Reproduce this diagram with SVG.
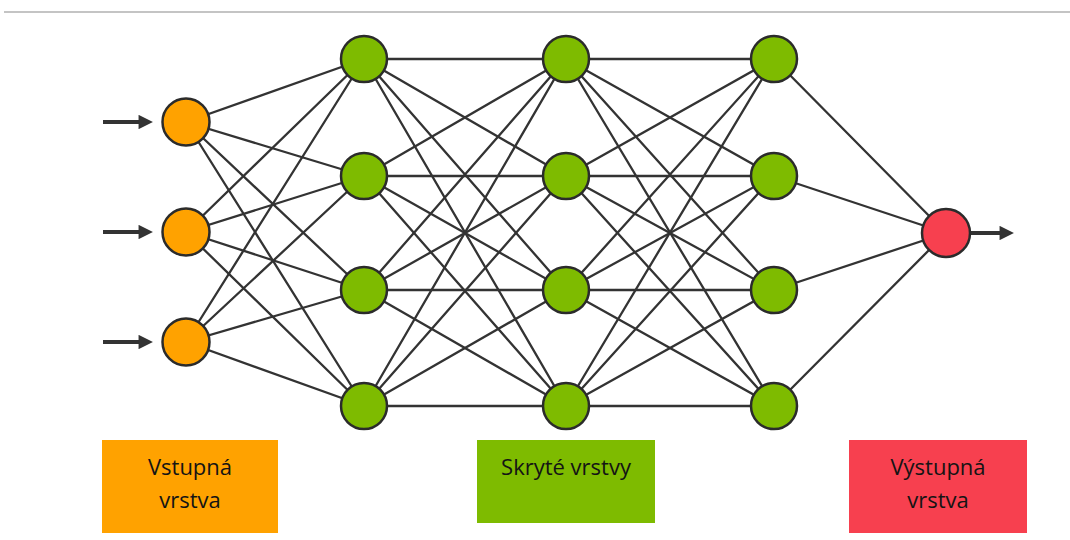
<svg xmlns="http://www.w3.org/2000/svg" width="1070" height="540" viewBox="0 0 1070 540">
<style>
.e{stroke:#333;stroke-width:2.3;fill:none}
.a{stroke:#333;stroke-width:4;fill:none}
.n{stroke:#2b2b2b;stroke-width:2.5}
.in{fill:#FFA200}.hid{fill:#7EBB00}.out{fill:#F7404F}
.t{font-family:"Open Sans","Noto Sans",sans-serif;font-size:22px;fill:#141414;text-anchor:middle}
</style>
<defs>
<marker id="ah" viewBox="0 0 10 10" refX="1" refY="5" markerWidth="3.8" markerHeight="3.6" markerUnits="strokeWidth" orient="auto"><path d="M0,0L10,5L0,10z" fill="#333"/></marker>
</defs>
<rect width="1070" height="540" fill="#fff"/>
<line x1="4" y1="12" x2="1070" y2="12" stroke="#c4c4c4" stroke-width="2"/>
<g id="connectors">
<g class="e">
<path d="M186,122L364,59M186,122L364,176M186,122L364,290M186,122L364,406"/>
<path d="M186,232L364,59M186,232L364,176M186,232L364,290M186,232L364,406"/>
<path d="M186,342L364,59M186,342L364,176M186,342L364,290M186,342L364,406"/>
<path d="M364,59L566,59M364,59L566,176M364,59L566,290M364,59L566,406"/>
<path d="M364,176L566,59M364,176L566,176M364,176L566,290M364,176L566,406"/>
<path d="M364,290L566,59M364,290L566,176M364,290L566,290M364,290L566,406"/>
<path d="M364,406L566,59M364,406L566,176M364,406L566,290M364,406L566,406"/>
<path d="M566,59L774,59M566,59L774,176M566,59L774,290M566,59L774,406"/>
<path d="M566,176L774,59M566,176L774,176M566,176L774,290M566,176L774,406"/>
<path d="M566,290L774,59M566,290L774,176M566,290L774,290M566,290L774,406"/>
<path d="M566,406L774,59M566,406L774,176M566,406L774,290M566,406L774,406"/>
<path d="M774,59L946,233M774,176L946,233M774,290L946,233M774,406L946,233"/>
</g>
<g class="a">
<line x1="103" y1="122" x2="140" y2="122" marker-end="url(#ah)"/>
<line x1="103" y1="232" x2="140" y2="232" marker-end="url(#ah)"/>
<line x1="103" y1="342" x2="140" y2="342" marker-end="url(#ah)"/>
<line x1="970" y1="233" x2="1001" y2="233" marker-end="url(#ah)"/>
</g>
</g>
<g id="input-nodes">
<circle id="i1" class="n in" cx="186" cy="122" r="23.5"/>
<circle id="i2" class="n in" cx="186" cy="232" r="23.5"/>
<circle id="i3" class="n in" cx="186" cy="342" r="23.5"/>
</g>
<g id="hidden-1">
<circle id="h11" class="n hid" cx="364" cy="59" r="23"/>
<circle id="h12" class="n hid" cx="364" cy="176" r="23"/>
<circle id="h13" class="n hid" cx="364" cy="290" r="23"/>
<circle id="h14" class="n hid" cx="364" cy="406" r="23"/>
</g>
<g id="hidden-2">
<circle id="h21" class="n hid" cx="566" cy="59" r="23"/>
<circle id="h22" class="n hid" cx="566" cy="176" r="23"/>
<circle id="h23" class="n hid" cx="566" cy="290" r="23"/>
<circle id="h24" class="n hid" cx="566" cy="406" r="23"/>
</g>
<g id="hidden-3">
<circle id="h31" class="n hid" cx="774" cy="59" r="23"/>
<circle id="h32" class="n hid" cx="774" cy="176" r="23"/>
<circle id="h33" class="n hid" cx="774" cy="290" r="23"/>
<circle id="h34" class="n hid" cx="774" cy="406" r="23"/>
</g>
<g id="output-node">
<circle id="o1" class="n out" cx="946" cy="233" r="24"/>
</g>
<g id="label-input">
<rect x="102" y="440" width="176" height="93" fill="#FFA200"/>
<text class="t" x="190" y="475">Vstupná</text>
<text class="t" x="190" y="508">vrstva</text>
</g>
<g id="label-hidden">
<rect x="477" y="440" width="178" height="83" fill="#7EBB00"/>
<text class="t" x="566" y="475">Skryté vrstvy</text>
</g>
<g id="label-output">
<rect x="849" y="440" width="178" height="93" fill="#F7404F"/>
<text class="t" x="938" y="475">Výstupná</text>
<text class="t" x="938" y="508">vrstva</text>
</g>
</svg>
